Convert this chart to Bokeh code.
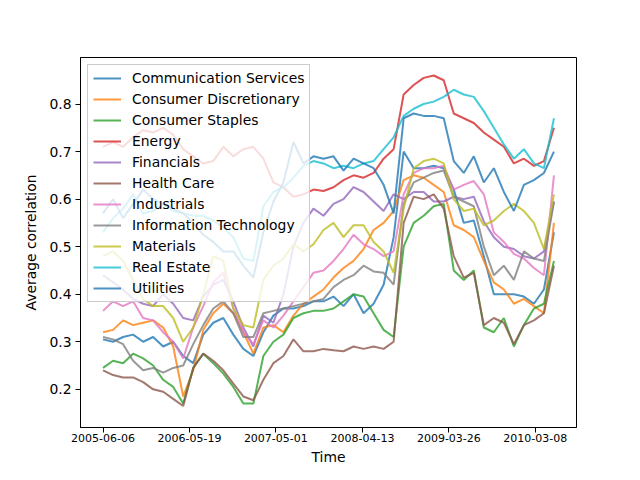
import numpy as np
import pandas as pd
from bokeh.plotting import figure
from bokeh.models import Range1d, FixedTicker, DatetimeTickFormatter
from bokeh.embed import file_html
from bokeh.resources import INLINE

# ---------------- data ----------------
start_date = "2005-06-06"
end_date = "2010-05-22"
n_points = 46
tick_dates = ["2005-06-06", "2006-05-19", "2007-05-01", "2008-04-13", "2009-03-26", "2010-03-08"]
y_ticks = [0.2, 0.3, 0.4, 0.5, 0.6, 0.7, 0.8]

communication_services = [0.305, 0.30, 0.31, 0.315, 0.30, 0.31, 0.29, 0.30, 0.27, 0.255, 0.315, 0.34, 0.35, 0.315, 0.285, 0.27,
                          0.32, 0.355, 0.37, 0.37, 0.375, 0.385, 0.385, 0.395, 0.375, 0.40, 0.36, 0.38, 0.42, 0.52,
                          0.70, 0.665, 0.665, 0.67, 0.665, 0.62, 0.55, 0.555, 0.48, 0.40, 0.40, 0.40, 0.395, 0.38, 0.41, 0.53]
consumer_discretionary = [0.32, 0.325, 0.345, 0.335, 0.34, 0.345, 0.33, 0.29, 0.185, 0.24, 0.325, 0.36, 0.38, 0.36, 0.32, 0.275,
                          0.33, 0.335, 0.32, 0.355, 0.38, 0.395, 0.41, 0.435, 0.455, 0.47, 0.495, 0.535, 0.55, 0.575,
                          0.64, 0.65, 0.645, 0.63, 0.615, 0.545, 0.535, 0.52, 0.47, 0.425, 0.41, 0.38, 0.39, 0.375, 0.36, 0.55]
consumer_staples = [0.245, 0.26, 0.255, 0.275, 0.265, 0.25, 0.22, 0.205, 0.17, 0.245, 0.275, 0.255, 0.233, 0.205, 0.17, 0.17,
                    0.27, 0.30, 0.315, 0.35, 0.36, 0.365, 0.365, 0.37, 0.385, 0.40, 0.395, 0.36, 0.325, 0.31,
                    0.50, 0.55, 0.565, 0.585, 0.59, 0.45, 0.43, 0.45, 0.33, 0.32, 0.35, 0.29, 0.335, 0.37, 0.38, 0.47]
energy = [0.71, 0.72, 0.71, 0.73, 0.745, 0.74, 0.75, 0.735, 0.705, 0.69, 0.675, 0.68, 0.71, 0.69, 0.705, 0.71,
          0.685, 0.635, 0.625, 0.605, 0.61, 0.62, 0.617, 0.625, 0.64, 0.65, 0.645, 0.655, 0.685, 0.705,
          0.82, 0.84, 0.855, 0.86, 0.85, 0.78, 0.77, 0.76, 0.74, 0.725, 0.71, 0.675, 0.685, 0.67, 0.68, 0.75]
financials = [0.44, 0.425, 0.41, 0.39, 0.38, 0.375, 0.40, 0.38, 0.35, 0.345, 0.395, 0.42, 0.43, 0.385, 0.33, 0.29,
              0.355, 0.34, 0.40, 0.50, 0.55, 0.58, 0.565, 0.59, 0.60, 0.625, 0.615, 0.595, 0.575, 0.61,
              0.60, 0.615, 0.615, 0.595, 0.595, 0.605, 0.60, 0.605, 0.553, 0.52, 0.50, 0.495, 0.48, 0.475, 0.49, 0.595]
health_care = [0.24, 0.23, 0.225, 0.225, 0.215, 0.20, 0.195, 0.18, 0.165, 0.245, 0.275, 0.26, 0.24, 0.212, 0.185, 0.177,
               0.22, 0.255, 0.27, 0.305, 0.28, 0.28, 0.285, 0.282, 0.28, 0.29, 0.285, 0.29, 0.285, 0.30,
               0.55, 0.605, 0.60, 0.61, 0.58, 0.48, 0.435, 0.445, 0.335, 0.35, 0.34, 0.295, 0.335, 0.345, 0.36, 0.46]
industrials = [0.365, 0.385, 0.375, 0.385, 0.35, 0.345, 0.32, 0.30, 0.265, 0.33, 0.375, 0.425, 0.445, 0.37, 0.32, 0.295,
               0.345, 0.33, 0.355, 0.385, 0.415, 0.445, 0.45, 0.47, 0.495, 0.525, 0.505, 0.495, 0.48, 0.49,
               0.61, 0.655, 0.665, 0.665, 0.67, 0.62, 0.63, 0.638, 0.61, 0.53, 0.51, 0.485, 0.475, 0.455, 0.44, 0.65]
information_technology = [0.31, 0.305, 0.295, 0.26, 0.24, 0.245, 0.235, 0.245, 0.25, 0.295, 0.335, 0.37, 0.385, 0.36, 0.31, 0.31,
                          0.36, 0.365, 0.37, 0.375, 0.38, 0.385, 0.39, 0.415, 0.43, 0.44, 0.46, 0.448, 0.445, 0.42,
                          0.59, 0.635, 0.645, 0.655, 0.66, 0.605, 0.595, 0.585, 0.50, 0.44, 0.46, 0.43, 0.49, 0.475, 0.47, 0.595]
materials = [0.48, 0.49, 0.47, 0.43, 0.39, 0.375, 0.375, 0.35, 0.30, 0.33, 0.40, 0.48, 0.47, 0.37, 0.335, 0.33,
             0.43, 0.46, 0.475, 0.505, 0.49, 0.505, 0.535, 0.55, 0.52, 0.545, 0.545, 0.51, 0.49, 0.445,
             0.58, 0.665, 0.68, 0.685, 0.675, 0.60, 0.575, 0.58, 0.545, 0.555, 0.575, 0.59, 0.575, 0.55, 0.495, 0.61]
real_estate = [0.53, 0.56, 0.58, 0.61, 0.57, 0.575, 0.59, 0.575, 0.57, 0.565, 0.565, 0.555, 0.54, 0.52, 0.475, 0.47,
               0.585, 0.615, 0.625, 0.645, 0.67, 0.68, 0.675, 0.665, 0.67, 0.665, 0.675, 0.68, 0.705, 0.73,
               0.775, 0.79, 0.80, 0.805, 0.815, 0.83, 0.82, 0.815, 0.785, 0.75, 0.715, 0.685, 0.705, 0.675, 0.665, 0.77]
utilities = [0.57, 0.60, 0.56, 0.59, 0.62, 0.60, 0.59, 0.58, 0.57, 0.55, 0.525, 0.51, 0.49, 0.49, 0.46, 0.435,
             0.53, 0.595, 0.635, 0.72, 0.675, 0.69, 0.685, 0.69, 0.66, 0.685, 0.675, 0.665, 0.63, 0.57,
             0.77, 0.78, 0.775, 0.775, 0.77, 0.68, 0.655, 0.69, 0.635, 0.665, 0.615, 0.575, 0.63, 0.64, 0.655, 0.70]

series_names = ["Communication Services", "Consumer Discretionary", "Consumer Staples", "Energy", "Financials",
                "Health Care", "Industrials", "Information Technology", "Materials", "Real Estate", "Utilities"]
series_values = [communication_services, consumer_discretionary, consumer_staples, energy, financials,
                 health_care, industrials, information_technology, materials, real_estate, utilities]
colors = ["#1f77b4", "#ff7f0e", "#2ca02c", "#d62728", "#9467bd", "#8c564b",
          "#e377c2", "#7f7f7f", "#bcbd22", "#17becf", "#1f77b4"]

# ---------------- figure ----------------
dates = pd.date_range(start_date, end_date, periods=n_points)
t0 = pd.Timestamp(start_date)
t1 = pd.Timestamp(end_date)
span = t1 - t0
x_start = (t0 - span * 0.05).to_pydatetime()
x_end = (t1 + span * 0.05).to_pydatetime()

p = figure(frame_width=496, frame_height=370, x_axis_type="datetime",
           output_backend="svg", toolbar_location=None,
           min_border_left=80, min_border_top=57, min_border_right=48, min_border_bottom=40,
           x_range=Range1d(x_start, x_end), y_range=Range1d(0.1197, 0.8978))

FONT = "DejaVu Sans"
for vals, name, col in zip(series_values, series_names, colors):
    p.line(dates, vals, line_color=col, line_width=2.0, line_alpha=0.8, legend_label=name)

p.xgrid.visible = False
p.ygrid.visible = False
p.background_fill_color = "white"
p.border_fill_color = "white"
p.outline_line_color = "black"
p.outline_line_width = 1
p.outline_line_alpha = 1.0

tick_ms = [pd.Timestamp(d).value // 10**6 for d in tick_dates]
p.xaxis.ticker = FixedTicker(ticks=tick_ms)
fmt = "%Y-%m-%d"
p.xaxis.formatter = DatetimeTickFormatter(microseconds=fmt, milliseconds=fmt, seconds=fmt, minsec=fmt,
                                          minutes=fmt, hourmin=fmt, hours=fmt, days=fmt, months=fmt, years=fmt,
                                          strip_leading_zeros=False)
p.yaxis.ticker = FixedTicker(ticks=y_ticks)

for ax in (p.xaxis[0], p.yaxis[0]):
    ax.axis_line_color = "black"
    ax.axis_line_width = 1
    ax.major_tick_line_color = "black"
    ax.major_tick_line_width = 1
    ax.major_tick_out = 5
    ax.major_tick_in = 0
    ax.minor_tick_line_color = None
    ax.major_label_text_font = FONT
    ax.axis_label_text_font = FONT
    ax.axis_label_text_font_style = "normal"
    ax.axis_label_text_font_size = "13.9px"
    ax.major_label_text_color = "black"
    ax.axis_label_text_color = "black"

p.xaxis.major_label_text_font_size = "11px"
p.xaxis.major_label_standoff = 1
p.xaxis.axis_label = "Time"
p.xaxis.axis_label_standoff = 4
p.yaxis.major_label_text_font_size = "13.9px"
p.yaxis.major_label_standoff = 4
p.yaxis.axis_label = "Average correlation"
p.yaxis.axis_label_standoff = 7

lg = p.legend[0]
lg.location = "top_left"
lg.margin = 7
lg.padding = 5
lg.spacing = 5
lg.glyph_width = 28
lg.glyph_height = 14
lg.label_height = 14
lg.label_width = 172
lg.label_standoff = 11
lg.label_text_font = FONT
lg.label_text_font_size = "13.9px"
lg.label_text_color = "black"
lg.background_fill_color = "white"
lg.background_fill_alpha = 0.8
lg.border_line_color = "#cccccc"
lg.border_line_width = 1
lg.border_line_alpha = 1.0

open("out.html", "w").write(file_html(p, INLINE))
